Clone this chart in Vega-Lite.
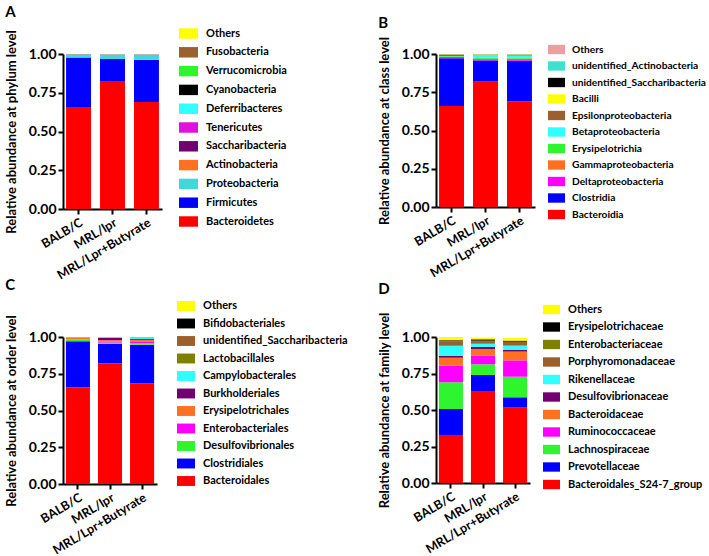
{
  "$schema": "https://vega.github.io/schema/vega-lite/v6.json",
  "background": "white",
  "padding": 5,
  "config": {
    "view": {"stroke": null},
    "font": "Lato",
    "axis": {"grid": false, "domainColor": "black", "domainWidth": 2, "tickColor": "black", "tickWidth": 2, "tickSize": 5, "labelFont": "Lato", "labelFontWeight": "bold", "labelFontSize": 14, "labelColor": "black", "titleFont": "Lato", "titleFontWeight": "bold", "titleFontSize": 13, "titleColor": "black"},
    "axisX": {"labelFontSize": 12.5, "labelAngle": -31, "title": null},
    "axisY": {"titlePadding": 10},
    "legend": {"orient": "none", "title": null, "labelFont": "Lato", "labelFontWeight": "bold", "labelFontSize": 11, "labelColor": "black", "labelOffset": 8, "padding": 0, "symbolStrokeWidth": 0, "symbolOpacity": 1},
    "title": {"font": "Lato", "fontWeight": "bold", "fontSize": 15, "anchor": "start", "frame": "bounds", "color": "black"}
  },
  "datasets": {
    "A": [
      {"group": "BALB/C", "taxon": "Bacteroidetes", "value": 0.658, "k": 0},
      {"group": "BALB/C", "taxon": "Firmicutes", "value": 0.32, "k": 1},
      {"group": "BALB/C", "taxon": "Proteobacteria", "value": 0.018, "k": 2},
      {"group": "BALB/C", "taxon": "Actinobacteria", "value": 0.001, "k": 3},
      {"group": "BALB/C", "taxon": "Saccharibacteria", "value": 0.001, "k": 4},
      {"group": "BALB/C", "taxon": "Tenericutes", "value": 0.0005, "k": 5},
      {"group": "BALB/C", "taxon": "Deferribacteres", "value": 0.0005, "k": 6},
      {"group": "BALB/C", "taxon": "Cyanobacteria", "value": 0.0003, "k": 7},
      {"group": "BALB/C", "taxon": "Verrucomicrobia", "value": 0.0003, "k": 8},
      {"group": "BALB/C", "taxon": "Fusobacteria", "value": 0.0002, "k": 9},
      {"group": "BALB/C", "taxon": "Others", "value": 0.0007, "k": 10},
      {"group": "MRL/lpr", "taxon": "Bacteroidetes", "value": 0.821, "k": 0},
      {"group": "MRL/lpr", "taxon": "Firmicutes", "value": 0.147, "k": 1},
      {"group": "MRL/lpr", "taxon": "Proteobacteria", "value": 0.028, "k": 2},
      {"group": "MRL/lpr", "taxon": "Actinobacteria", "value": 0.001, "k": 3},
      {"group": "MRL/lpr", "taxon": "Saccharibacteria", "value": 0.001, "k": 4},
      {"group": "MRL/lpr", "taxon": "Tenericutes", "value": 0.0005, "k": 5},
      {"group": "MRL/lpr", "taxon": "Deferribacteres", "value": 0.0005, "k": 6},
      {"group": "MRL/lpr", "taxon": "Cyanobacteria", "value": 0.0002, "k": 7},
      {"group": "MRL/lpr", "taxon": "Verrucomicrobia", "value": 0.0002, "k": 8},
      {"group": "MRL/lpr", "taxon": "Fusobacteria", "value": 0.0001, "k": 9},
      {"group": "MRL/lpr", "taxon": "Others", "value": 0.0005, "k": 10},
      {"group": "MRL/Lpr+Butyrate", "taxon": "Bacteroidetes", "value": 0.69, "k": 0},
      {"group": "MRL/Lpr+Butyrate", "taxon": "Firmicutes", "value": 0.272, "k": 1},
      {"group": "MRL/Lpr+Butyrate", "taxon": "Proteobacteria", "value": 0.034, "k": 2},
      {"group": "MRL/Lpr+Butyrate", "taxon": "Actinobacteria", "value": 0.001, "k": 3},
      {"group": "MRL/Lpr+Butyrate", "taxon": "Saccharibacteria", "value": 0.001, "k": 4},
      {"group": "MRL/Lpr+Butyrate", "taxon": "Tenericutes", "value": 0.0005, "k": 5},
      {"group": "MRL/Lpr+Butyrate", "taxon": "Deferribacteres", "value": 0.0005, "k": 6},
      {"group": "MRL/Lpr+Butyrate", "taxon": "Cyanobacteria", "value": 0.0002, "k": 7},
      {"group": "MRL/Lpr+Butyrate", "taxon": "Verrucomicrobia", "value": 0.0002, "k": 8},
      {"group": "MRL/Lpr+Butyrate", "taxon": "Fusobacteria", "value": 0.0001, "k": 9},
      {"group": "MRL/Lpr+Butyrate", "taxon": "Others", "value": 0.0005, "k": 10}
    ],
    "B": [
      {"group": "BALB/C", "taxon": "Bacteroidia", "value": 0.66, "k": 0},
      {"group": "BALB/C", "taxon": "Clostridia", "value": 0.312, "k": 1},
      {"group": "BALB/C", "taxon": "Deltaproteobacteria", "value": 0.008, "k": 2},
      {"group": "BALB/C", "taxon": "Gammaproteobacteria", "value": 0.001, "k": 3},
      {"group": "BALB/C", "taxon": "Erysipelotrichia", "value": 0.005, "k": 4},
      {"group": "BALB/C", "taxon": "Betaproteobacteria", "value": 0.001, "k": 5},
      {"group": "BALB/C", "taxon": "Epsilonproteobacteria", "value": 0.009, "k": 6},
      {"group": "BALB/C", "taxon": "Bacilli", "value": 0.002, "k": 7},
      {"group": "BALB/C", "taxon": "unidentified_Saccharibacteria", "value": 0.0005, "k": 8},
      {"group": "BALB/C", "taxon": "unidentified_Actinobacteria", "value": 0.0005, "k": 9},
      {"group": "BALB/C", "taxon": "Others", "value": 0.001, "k": 10},
      {"group": "MRL/lpr", "taxon": "Bacteroidia", "value": 0.819, "k": 0},
      {"group": "MRL/lpr", "taxon": "Clostridia", "value": 0.139, "k": 1},
      {"group": "MRL/lpr", "taxon": "Deltaproteobacteria", "value": 0.008, "k": 2},
      {"group": "MRL/lpr", "taxon": "Gammaproteobacteria", "value": 0.002, "k": 3},
      {"group": "MRL/lpr", "taxon": "Erysipelotrichia", "value": 0.008, "k": 4},
      {"group": "MRL/lpr", "taxon": "Betaproteobacteria", "value": 0.018, "k": 5},
      {"group": "MRL/lpr", "taxon": "Epsilonproteobacteria", "value": 0.002, "k": 6},
      {"group": "MRL/lpr", "taxon": "Bacilli", "value": 0.002, "k": 7},
      {"group": "MRL/lpr", "taxon": "unidentified_Saccharibacteria", "value": 0.0005, "k": 8},
      {"group": "MRL/lpr", "taxon": "unidentified_Actinobacteria", "value": 0.0005, "k": 9},
      {"group": "MRL/lpr", "taxon": "Others", "value": 0.001, "k": 10},
      {"group": "MRL/Lpr+Butyrate", "taxon": "Bacteroidia", "value": 0.69, "k": 0},
      {"group": "MRL/Lpr+Butyrate", "taxon": "Clostridia", "value": 0.266, "k": 1},
      {"group": "MRL/Lpr+Butyrate", "taxon": "Deltaproteobacteria", "value": 0.01, "k": 2},
      {"group": "MRL/Lpr+Butyrate", "taxon": "Gammaproteobacteria", "value": 0.003, "k": 3},
      {"group": "MRL/Lpr+Butyrate", "taxon": "Erysipelotrichia", "value": 0.008, "k": 4},
      {"group": "MRL/Lpr+Butyrate", "taxon": "Betaproteobacteria", "value": 0.013, "k": 5},
      {"group": "MRL/Lpr+Butyrate", "taxon": "Epsilonproteobacteria", "value": 0.004, "k": 6},
      {"group": "MRL/Lpr+Butyrate", "taxon": "Bacilli", "value": 0.003, "k": 7},
      {"group": "MRL/Lpr+Butyrate", "taxon": "unidentified_Saccharibacteria", "value": 0.001, "k": 8},
      {"group": "MRL/Lpr+Butyrate", "taxon": "unidentified_Actinobacteria", "value": 0.001, "k": 9},
      {"group": "MRL/Lpr+Butyrate", "taxon": "Others", "value": 0.001, "k": 10}
    ],
    "C": [
      {"group": "BALB/C", "taxon": "Bacteroidales", "value": 0.658, "k": 0},
      {"group": "BALB/C", "taxon": "Clostridiales", "value": 0.313, "k": 1},
      {"group": "BALB/C", "taxon": "Desulfovibrionales", "value": 0.012, "k": 2},
      {"group": "BALB/C", "taxon": "Enterobacteriales", "value": 0.002, "k": 3},
      {"group": "BALB/C", "taxon": "Erysipelotrichales", "value": 0.008, "k": 4},
      {"group": "BALB/C", "taxon": "Burkholderiales", "value": 0.001, "k": 5},
      {"group": "BALB/C", "taxon": "Campylobacterales", "value": 0.002, "k": 6},
      {"group": "BALB/C", "taxon": "Lactobacillales", "value": 0.002, "k": 7},
      {"group": "BALB/C", "taxon": "unidentified_Saccharibacteria", "value": 0.0005, "k": 8},
      {"group": "BALB/C", "taxon": "Bifidobacteriales", "value": 0.0005, "k": 9},
      {"group": "BALB/C", "taxon": "Others", "value": 0.001, "k": 10},
      {"group": "MRL/lpr", "taxon": "Bacteroidales", "value": 0.82, "k": 0},
      {"group": "MRL/lpr", "taxon": "Clostridiales", "value": 0.134, "k": 1},
      {"group": "MRL/lpr", "taxon": "Desulfovibrionales", "value": 0.008, "k": 2},
      {"group": "MRL/lpr", "taxon": "Enterobacteriales", "value": 0.006, "k": 3},
      {"group": "MRL/lpr", "taxon": "Erysipelotrichales", "value": 0.01, "k": 4},
      {"group": "MRL/lpr", "taxon": "Burkholderiales", "value": 0.016, "k": 5},
      {"group": "MRL/lpr", "taxon": "Campylobacterales", "value": 0.002, "k": 6},
      {"group": "MRL/lpr", "taxon": "Lactobacillales", "value": 0.001, "k": 7},
      {"group": "MRL/lpr", "taxon": "unidentified_Saccharibacteria", "value": 0.001, "k": 8},
      {"group": "MRL/lpr", "taxon": "Bifidobacteriales", "value": 0.0005, "k": 9},
      {"group": "MRL/lpr", "taxon": "Others", "value": 0.0015, "k": 10},
      {"group": "MRL/Lpr+Butyrate", "taxon": "Bacteroidales", "value": 0.686, "k": 0},
      {"group": "MRL/Lpr+Butyrate", "taxon": "Clostridiales", "value": 0.262, "k": 1},
      {"group": "MRL/Lpr+Butyrate", "taxon": "Desulfovibrionales", "value": 0.01, "k": 2},
      {"group": "MRL/Lpr+Butyrate", "taxon": "Enterobacteriales", "value": 0.012, "k": 3},
      {"group": "MRL/Lpr+Butyrate", "taxon": "Erysipelotrichales", "value": 0.01, "k": 4},
      {"group": "MRL/Lpr+Butyrate", "taxon": "Burkholderiales", "value": 0.006, "k": 5},
      {"group": "MRL/Lpr+Butyrate", "taxon": "Campylobacterales", "value": 0.008, "k": 6},
      {"group": "MRL/Lpr+Butyrate", "taxon": "Lactobacillales", "value": 0.002, "k": 7},
      {"group": "MRL/Lpr+Butyrate", "taxon": "unidentified_Saccharibacteria", "value": 0.001, "k": 8},
      {"group": "MRL/Lpr+Butyrate", "taxon": "Bifidobacteriales", "value": 0.001, "k": 9},
      {"group": "MRL/Lpr+Butyrate", "taxon": "Others", "value": 0.002, "k": 10}
    ],
    "D": [
      {"group": "BALB/C", "taxon": "Bacteroidales_S24-7_group", "value": 0.329, "k": 0},
      {"group": "BALB/C", "taxon": "Prevotellaceae", "value": 0.178, "k": 1},
      {"group": "BALB/C", "taxon": "Lachnospiraceae", "value": 0.183, "k": 2},
      {"group": "BALB/C", "taxon": "Ruminococcaceae", "value": 0.113, "k": 3},
      {"group": "BALB/C", "taxon": "Bacteroidaceae", "value": 0.055, "k": 4},
      {"group": "BALB/C", "taxon": "Desulfovibrionaceae", "value": 0.014, "k": 5},
      {"group": "BALB/C", "taxon": "Rikenellaceae", "value": 0.068, "k": 6},
      {"group": "BALB/C", "taxon": "Porphyromonadaceae", "value": 0.032, "k": 7},
      {"group": "BALB/C", "taxon": "Enterobacteriaceae", "value": 0.004, "k": 8},
      {"group": "BALB/C", "taxon": "Erysipelotrichaceae", "value": 0.003, "k": 9},
      {"group": "BALB/C", "taxon": "Others", "value": 0.021, "k": 10},
      {"group": "MRL/lpr", "taxon": "Bacteroidales_S24-7_group", "value": 0.63, "k": 0},
      {"group": "MRL/lpr", "taxon": "Prevotellaceae", "value": 0.11, "k": 1},
      {"group": "MRL/lpr", "taxon": "Lachnospiraceae", "value": 0.073, "k": 2},
      {"group": "MRL/lpr", "taxon": "Ruminococcaceae", "value": 0.059, "k": 3},
      {"group": "MRL/lpr", "taxon": "Bacteroidaceae", "value": 0.046, "k": 4},
      {"group": "MRL/lpr", "taxon": "Desulfovibrionaceae", "value": 0.014, "k": 5},
      {"group": "MRL/lpr", "taxon": "Rikenellaceae", "value": 0.022, "k": 6},
      {"group": "MRL/lpr", "taxon": "Porphyromonadaceae", "value": 0.018, "k": 7},
      {"group": "MRL/lpr", "taxon": "Enterobacteriaceae", "value": 0.003, "k": 8},
      {"group": "MRL/lpr", "taxon": "Erysipelotrichaceae", "value": 0.009, "k": 9},
      {"group": "MRL/lpr", "taxon": "Others", "value": 0.012, "k": 10},
      {"group": "MRL/Lpr+Butyrate", "taxon": "Bacteroidales_S24-7_group", "value": 0.518, "k": 0},
      {"group": "MRL/Lpr+Butyrate", "taxon": "Prevotellaceae", "value": 0.069, "k": 1},
      {"group": "MRL/Lpr+Butyrate", "taxon": "Lachnospiraceae", "value": 0.141, "k": 2},
      {"group": "MRL/Lpr+Butyrate", "taxon": "Ruminococcaceae", "value": 0.112, "k": 3},
      {"group": "MRL/Lpr+Butyrate", "taxon": "Bacteroidaceae", "value": 0.06, "k": 4},
      {"group": "MRL/Lpr+Butyrate", "taxon": "Desulfovibrionaceae", "value": 0.013, "k": 5},
      {"group": "MRL/Lpr+Butyrate", "taxon": "Rikenellaceae", "value": 0.028, "k": 6},
      {"group": "MRL/Lpr+Butyrate", "taxon": "Porphyromonadaceae", "value": 0.025, "k": 7},
      {"group": "MRL/Lpr+Butyrate", "taxon": "Enterobacteriaceae", "value": 0.002, "k": 8},
      {"group": "MRL/Lpr+Butyrate", "taxon": "Erysipelotrichaceae", "value": 0.007, "k": 9},
      {"group": "MRL/Lpr+Butyrate", "taxon": "Others", "value": 0.018, "k": 10}
    ]
  },
  "columns": 2,
  "spacing": {"row": -4, "column": 30},
  "resolve": {"scale": {"color": "independent", "x": "independent", "y": "independent"}},
  "concat": [
    {
      "title": {"text": "A"},
      "width": 99, "height": 155,
      "data": {"name": "A"},
      "mark": {"type": "bar"},
      "encoding": {
        "x": {"field": "group", "type": "nominal", "sort": ["BALB/C", "MRL/lpr", "MRL/Lpr+Butyrate"], "scale": {"paddingInner": 0.265, "paddingOuter": 0.09}},
        "y": {"field": "value", "type": "quantitative", "stack": "zero", "scale": {"domain": [0, 1]}, "axis": {"title": "Relative abundance at phylum level", "values": [0, 0.25, 0.5, 0.75, 1], "format": ".2f"}},
        "color": {"field": "taxon", "type": "nominal",
          "scale": {"domain": ["Others", "Fusobacteria", "Verrucomicrobia", "Cyanobacteria", "Deferribacteres", "Tenericutes", "Saccharibacteria", "Actinobacteria", "Proteobacteria", "Firmicutes", "Bacteroidetes"],
                    "range": ["#FFFF00", "#9C5F2E", "#2EF52E", "#000000", "#30FFFF", "#E010E0", "#700070", "#FF7020", "#40D8D8", "#0000FF", "#FF0000"]},
          "legend": {"legendX": 116, "legendY": -30, "symbolType": "M-1,-0.55H1V0.55H-1Z", "symbolSize": 361, "rowPadding": 3.8}},
        "order": {"field": "k", "type": "quantitative"}
      }
    },
    {
      "title": {"text": "B"},
      "width": 99, "height": 153,
      "data": {"name": "B"},
      "mark": {"type": "bar"},
      "encoding": {
        "x": {"field": "group", "type": "nominal", "sort": ["BALB/C", "MRL/lpr", "MRL/Lpr+Butyrate"], "scale": {"paddingInner": 0.265, "paddingOuter": 0.09}},
        "y": {"field": "value", "type": "quantitative", "stack": "zero", "scale": {"domain": [0, 1]}, "axis": {"title": "Relative abundance  at class level", "values": [0, 0.25, 0.5, 0.75, 1], "format": ".2f"}},
        "color": {"field": "taxon", "type": "nominal",
          "scale": {"domain": ["Others", "unidentified_Actinobacteria", "unidentified_Saccharibacteria", "Bacilli", "Epsilonproteobacteria", "Betaproteobacteria", "Erysipelotrichia", "Gammaproteobacteria", "Deltaproteobacteria", "Clostridia", "Bacteroidia"],
                    "range": ["#E8A0A0", "#40E0D0", "#000000", "#FFFF00", "#9C5F2E", "#30FFFF", "#2EF52E", "#FF7020", "#FF00FF", "#0000FF", "#FF0000"]},
          "legend": {"legendX": 112, "legendY": -13, "symbolType": "M-1,-0.55H1V0.55H-1Z", "symbolSize": 289, "rowPadding": 2.5, "labelFontSize": 10.2, "labelOffset": 7}},
        "order": {"field": "k", "type": "quantitative"}
      }
    },
    {
      "title": {"text": "C"},
      "width": 94, "height": 147,
      "data": {"name": "C"},
      "mark": {"type": "bar"},
      "encoding": {
        "x": {"field": "group", "type": "nominal", "sort": ["BALB/C", "MRL/lpr", "MRL/Lpr+Butyrate"], "scale": {"paddingInner": 0.25, "paddingOuter": 0.09}},
        "y": {"field": "value", "type": "quantitative", "stack": "zero", "scale": {"domain": [0, 1]}, "axis": {"title": "Relative abundance at order level", "values": [0, 0.25, 0.5, 0.75, 1], "format": ".2f"}},
        "color": {"field": "taxon", "type": "nominal",
          "scale": {"domain": ["Others", "Bifidobacteriales", "unidentified_Saccharibacteria", "Lactobacillales", "Campylobacterales", "Burkholderiales", "Erysipelotrichales", "Enterobacteriales", "Desulfovibrionales", "Clostridiales", "Bacteroidales"],
                    "range": ["#FFFF00", "#000000", "#9C5F2E", "#808000", "#30FFFF", "#700070", "#FF7020", "#FF00FF", "#2EF52E", "#0000FF", "#FF0000"]},
          "legend": {"legendX": 114, "legendY": -40, "symbolType": "M-1,-0.55H1V0.55H-1Z", "symbolSize": 324, "rowPadding": 3.5}},
        "order": {"field": "k", "type": "quantitative"}
      }
    },
    {
      "title": {"text": "D"},
      "width": 94, "height": 146,
      "data": {"name": "D"},
      "mark": {"type": "bar"},
      "encoding": {
        "x": {"field": "group", "type": "nominal", "sort": ["BALB/C", "MRL/lpr", "MRL/Lpr+Butyrate"], "scale": {"paddingInner": 0.25, "paddingOuter": 0.09}},
        "y": {"field": "value", "type": "quantitative", "stack": "zero", "scale": {"domain": [0, 1]}, "axis": {"title": "Relative abundance at family level", "values": [0, 0.25, 0.5, 0.75, 1], "format": ".2f"}},
        "color": {"field": "taxon", "type": "nominal",
          "scale": {"domain": ["Others", "Erysipelotrichaceae", "Enterobacteriaceae", "Porphyromonadaceae", "Rikenellaceae", "Desulfovibrionaceae", "Bacteroidaceae", "Ruminococcaceae", "Lachnospiraceae", "Prevotellaceae", "Bacteroidales_S24-7_group"],
                    "range": ["#FFFF00", "#000000", "#808000", "#9C5F2E", "#30FFFF", "#700070", "#FF7020", "#FF00FF", "#2EF52E", "#0000FF", "#FF0000"]},
          "legend": {"legendX": 107, "legendY": -36, "symbolType": "M-1,-0.55H1V0.55H-1Z", "symbolSize": 289, "rowPadding": 3.5}},
        "order": {"field": "k", "type": "quantitative"}
      }
    }
  ]
}
